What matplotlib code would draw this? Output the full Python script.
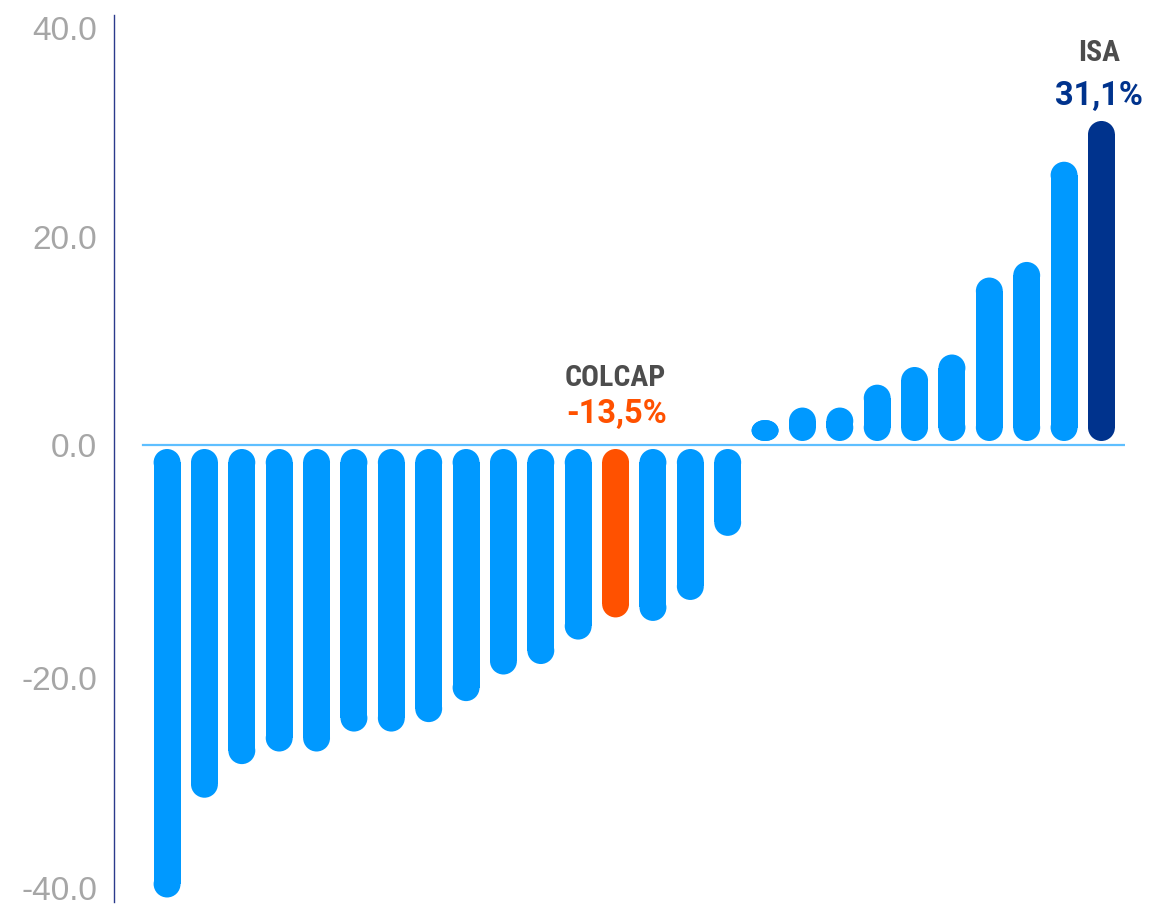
import numpy as np
import matplotlib
matplotlib.use("Agg")
import matplotlib.pyplot as plt
from matplotlib.patches import Rectangle, Ellipse
from matplotlib.transforms import IdentityTransform
from matplotlib import font_manager

# ---------------- data ----------------
values = [-40.9, -31.4, -28.2, -27.0, -27.0, -25.1, -25.1, -24.2, -22.2,
          -19.7, -18.8, -16.7, -14.8, -15.1, -13.3, -7.8,
          2.4, 3.6, 3.6, 5.8, 7.5, 8.7, 16.1, 17.6, 27.2, 31.1]
highlight_names = ["COLCAP", "ISA"]
highlight_idx = [12, 25]
highlight_labels = ["-13,5%", "31,1%"]
yticks = [-40, -20, 0, 20, 40]

# ---------------- style ----------------
C_BAR = "#0099FF"
C_COLCAP = "#FF5100"
C_ISA = "#00338D"
C_ZERO = "#5EBFFF"
C_SPINE = "#2B3A8C"
C_TICK = "#A6A6A6"
C_NAME = "#4D4D4D"

avail = {f.name for f in font_manager.fontManager.ttflist}
def pick(*names):
    for n in names:
        if n in avail:
            return n
    return "DejaVu Sans"

F_TICK = pick("Liberation Sans", "Roboto", "DejaVu Sans")
F_COND = pick("Roboto Condensed", "Liberation Sans Narrow", "Roboto", "DejaVu Sans")
F_PCT = pick("Roboto", "Liberation Sans", "DejaVu Sans")

W, H = 1149, 908
fig = plt.figure(figsize=(W / 100, H / 100), dpi=100)
ax = fig.add_axes([114 / W, (H - 902) / H, (1125 - 114) / W, (902 - 15) / H])

# piecewise-linear y scale following the original tick spacing
YK = np.array([-100, -40, -20, 0, 20, 40, 100], float)
PK = np.array([-443 - 60 * 10.5, -443, -233, 0, 208, 417, 417 + 60 * 10.45])
def fwd(y):
    return np.interp(y, YK, PK)
def inv(p):
    return np.interp(p, PK, YK)
ax.set_yscale("function", functions=(fwd, inv))
ax.set_ylim(-41.33, 41.24)
ax.set_xlim(-1.42, 25.63)

ax.set_yticks(yticks)
ax.set_yticklabels([f"{t:.1f}" for t in yticks])
ax.yaxis.set_minor_locator(matplotlib.ticker.NullLocator())
ax.tick_params(axis="y", length=0, pad=12, labelsize=24, labelcolor=C_TICK)
for lab in ax.get_yticklabels():
    lab.set_fontfamily(F_TICK)
ax.set_xticks([])
for s in ["top", "right", "bottom"]:
    ax.spines[s].set_visible(False)
ax.spines["left"].set_color(C_SPINE)
ax.spines["left"].set_linewidth(1.0)

# zero line
ax.axhline(0, xmin=(143 - 114) / 1011, xmax=1.0, color=C_ZERO, lw=1.6, zorder=1)

# rounded (capsule) bars
colors = [C_BAR] * len(values)
colors[highlight_idx[0]] = C_COLCAP
colors[highlight_idx[1]] = C_ISA
BW = 0.72
GAP = 4
trans = ax.transData
for i, (v, c) in enumerate(zip(values, colors)):
    (x0, y0), (x1, y1) = trans.transform([(i - BW / 2, 0), (i + BW / 2, v)])
    if v >= 0:
        ylo, yhi = y0 + GAP, y1
    else:
        ylo, yhi = y1, y0 - GAP
    w = x1 - x0
    h = yhi - ylo
    xc = (x0 + x1) / 2
    ch = min(w, h) / 2
    kw = dict(transform=IdentityTransform(), fc=c, ec="none", lw=0, zorder=2, antialiased=True)
    if h - 2 * ch > 0:
        fig.add_artist(Rectangle((x0, ylo + ch), w, h - 2 * ch, **kw))
    fig.add_artist(Ellipse((xc, ylo + ch), w, 2 * ch, **kw))
    fig.add_artist(Ellipse((xc, yhi - ch), w, 2 * ch, **kw))

# annotations
fs_name = 21.5
fs_pct = 23.5
i0 = highlight_idx[0]
ax.annotate(highlight_names[0], xy=(i0, 0), xytext=(0, 59 * 0.72), textcoords="offset points",
            ha="center", va="baseline", fontsize=fs_name, fontweight="bold", color=C_NAME, family=F_COND)
ax.annotate(highlight_labels[0], xy=(i0, 0), xytext=(1, 22 * 0.72), textcoords="offset points",
            ha="center", va="baseline", fontsize=fs_pct, fontweight="bold", color=C_COLCAP, family=F_PCT)
i1 = highlight_idx[1]
ax.annotate(highlight_names[1], xy=(i1, values[i1]), xytext=(-2, 60 * 0.72), textcoords="offset points",
            ha="center", va="baseline", fontsize=fs_name, fontweight="bold", color=C_NAME, family=F_COND)
ax.annotate(highlight_labels[1], xy=(i1, values[i1]), xytext=(-2, 16 * 0.72), textcoords="offset points",
            ha="center", va="baseline", fontsize=fs_pct, fontweight="bold", color=C_ISA, family=F_PCT)

fig.savefig("out.png", dpi=100, facecolor="white")
